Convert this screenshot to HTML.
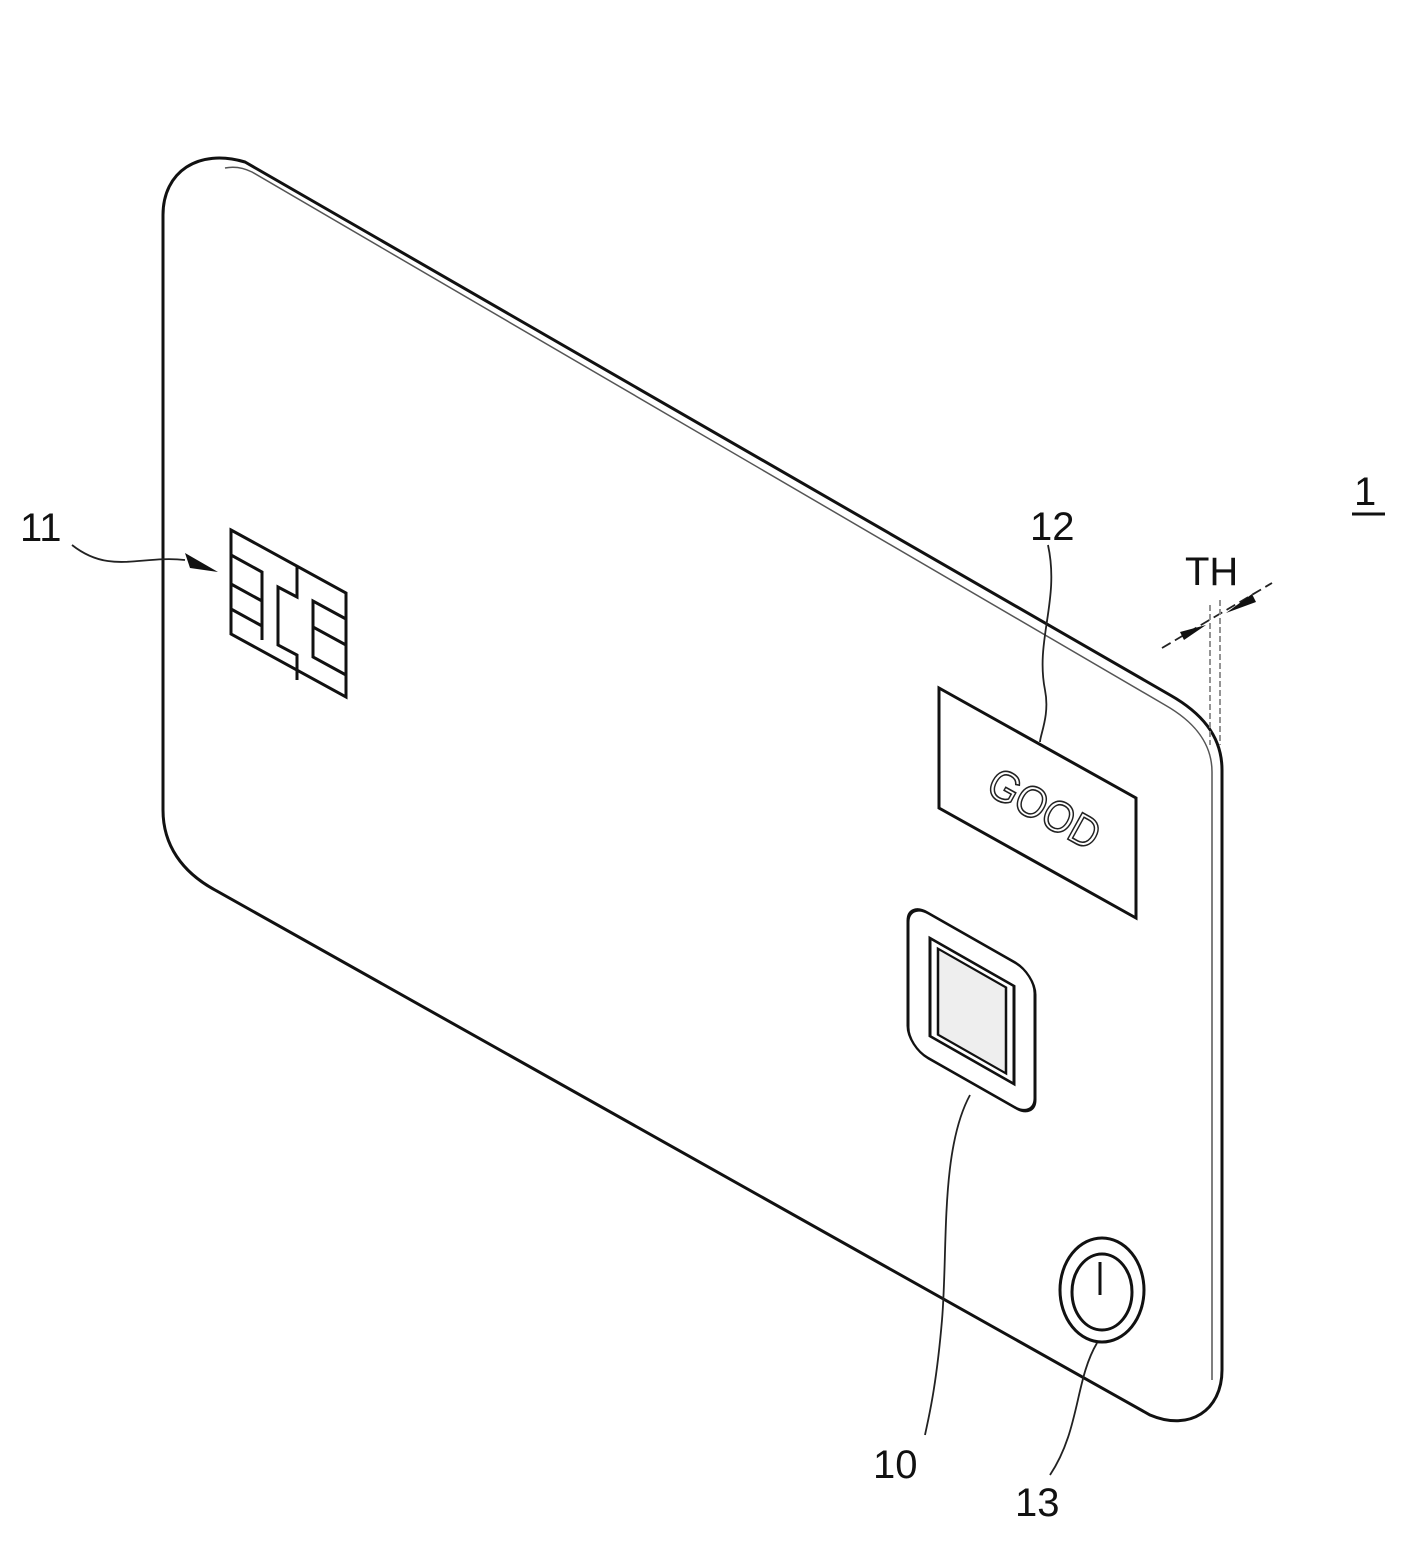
<!DOCTYPE html>
<html><head><style>body{margin:0;background:#fff}</style></head><body>
<svg width="1406" height="1539" viewBox="0 0 1406 1539" xmlns="http://www.w3.org/2000/svg" font-family="Liberation Sans, sans-serif">
<g fill="none" stroke="#111" stroke-width="3">
<path d="M163,810 L163,215 C163,172 198,148 245,162 L1170,695 C1200,712 1222,735 1222,770 L1222,1370 C1222,1410 1190,1432 1150,1415 L215,890 C182,872 163,845 163,810 Z"/>
</g>
<path d="M225,168 C235,166 244,168 252,172 L1165,705 C1193,721 1212,742 1212,772 L1212,1380" fill="none" stroke="#555" stroke-width="1.5"/>
<!-- chip -->
<g fill="none" stroke="#111" stroke-width="3">
<polygon points="231,530 346,593 346,697 231,634"/>
<polyline points="231,555 262,572 262,640"/>
<line x1="231" y1="584" x2="262" y2="601"/>
<line x1="231" y1="609" x2="262" y2="626"/>
<polyline points="297,566 297,597 278,587 278,645 297,655 297,680"/>
<polyline points="346,619 313,601 313,657 346,675"/>
<line x1="313" y1="627" x2="346" y2="645"/>
</g>
<!-- GOOD -->
<polygon points="939,688 1136,798 1136,918 939,808" fill="none" stroke="#111" stroke-width="3"/>
<text x="0" y="0" font-size="44" fill="#fff" stroke="#222" stroke-width="1.6" transform="translate(1037,822) rotate(29) scale(0.9,1)" text-anchor="middle">GOOD</text>
<!-- sensor -->
<g transform="matrix(1,0.57,0,1,0,0)" fill="none" stroke="#111" stroke-width="3">
<rect x="908" y="384" width="127" height="145" rx="20"/>
<rect x="930" y="408" width="84" height="98"/>
<rect x="938" y="414" width="68" height="86" fill="#eee" stroke-width="2.5"/>
</g>
<!-- power -->
<g fill="none" stroke="#111" stroke-width="3">
<ellipse cx="1102" cy="1290" rx="42" ry="52"/>
<ellipse cx="1102" cy="1292" rx="30" ry="38"/>
<line x1="1100" y1="1262" x2="1100" y2="1295"/>
</g>
<!-- leaders -->
<g fill="none" stroke="#222" stroke-width="1.8">
<path d="M72,545 C110,575 140,555 185,560"/>
<path d="M1048,545 C1060,600 1035,640 1045,690 C1050,715 1040,735 1040,742"/>
<path d="M970,1095 C940,1150 948,1250 942,1320 C936,1390 928,1420 925,1435"/>
<path d="M1097,1343 C1075,1380 1080,1430 1050,1475"/>
<path d="M1162,648 L1272,583" stroke-dasharray="10,5"/>
<path d="M1210,605 L1210,745 M1220,600 L1220,745" stroke-dasharray="6,3" stroke="#888"/>
</g>
<polygon points="218,572 185,553 190,568" fill="#111"/>
<polygon points="1206,625 1180,632 1184,640" fill="#111"/>
<polygon points="1226,613 1252,594 1256,602" fill="#111"/>
<g font-size="40" fill="#111">
<text x="20" y="541">11</text>
<text x="1030" y="540">12</text>
<text x="1354" y="505">1</text>
<line x1="1352" y1="514" x2="1385" y2="514" stroke="#111" stroke-width="3"/>
<text x="1185" y="585">TH</text>
<text x="873" y="1478">10</text>
<text x="1015" y="1516">13</text>
</g>
</svg>
</body></html>
